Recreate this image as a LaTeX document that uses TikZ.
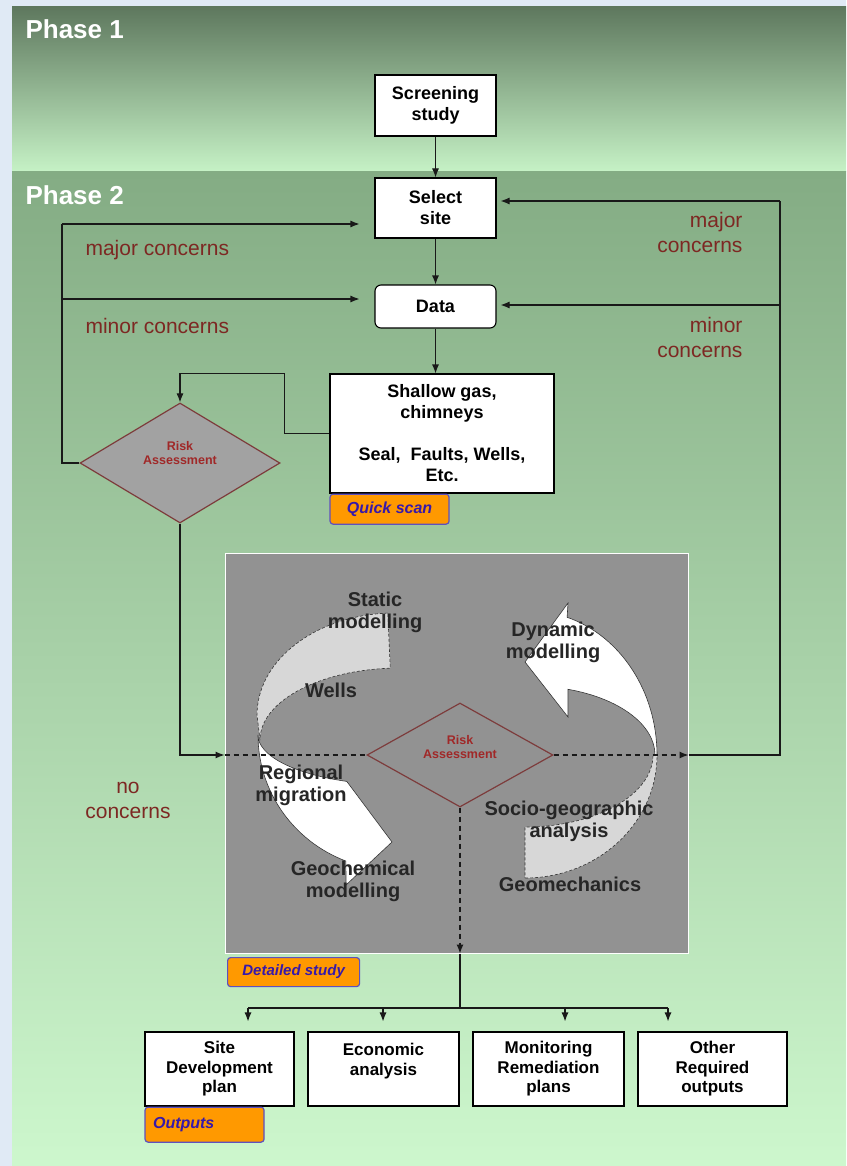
\documentclass[tikz,border=0pt]{standalone}
\usepackage{fontspec}
\setmainfont{Liberation Sans}
\usetikzlibrary{arrows.meta,calc,shapes.geometric}

\definecolor{paleblue}{RGB}{224,234,245}
\definecolor{darkgreen}{RGB}{94,120,94}
\definecolor{lightgreen}{RGB}{198,242,198}
\definecolor{midgreen}{RGB}{132,172,132}
\definecolor{palegreen}{RGB}{205,247,205}
\definecolor{studygray}{RGB}{146,146,146}
\definecolor{riskgray}{RGB}{162,162,162}
\definecolor{riskred}{RGB}{160,40,40}
\definecolor{riskedge}{RGB}{125,60,60}
\definecolor{concernred}{RGB}{125,40,35}
\definecolor{tagorange}{RGB}{255,153,0}
\definecolor{tagedge}{RGB}{95,80,190}
\definecolor{tagtext}{RGB}{55,25,170}
\definecolor{ringgray}{RGB}{215,215,215}

\tikzset{
  box/.style={draw=black, line width=1.1pt, fill=white, align=center, inner sep=0pt,
    font=\bfseries\fontsize{18}{21}\selectfont},
  outbox/.style={box, minimum height=74pt, font=\bfseries\fontsize{17}{19.5}\selectfont},
  tagbox/.style={draw=tagedge, line width=1.2pt, fill=tagorange, rounded corners=3pt,
    text=tagtext, inner sep=0pt, font=\bfseries\itshape\fontsize{16}{18}\selectfont},
  riskdia/.style={diamond, draw=riskedge, line width=1.2pt, inner sep=0pt},
  risktext/.style={text=riskred, align=center, font=\bfseries\fontsize{12.5}{14}\selectfont},
  concern/.style={text=concernred, font=\fontsize{21}{25}\selectfont},
  ringtext/.style={text=black!85, align=center, font=\bfseries\fontsize{20}{22}\selectfont},
  phase/.style={text=white, anchor=west, font=\bfseries\fontsize{26}{30}\selectfont},
  wire/.style={line width=1.1pt, draw=black!90},
  conn/.style={wire, -{Latex[length=9pt,width=7pt]}},
  dashwire/.style={wire, dash pattern=on 5pt off 4pt},
  backring/.style={fill=ringgray, draw=black!80, line width=0.6pt, densely dashed},
  frontring/.style={fill=white, draw=black!80, line width=0.6pt}
}

\begin{document}
\begin{tikzpicture}[x=1pt, y=-1pt]
  \useasboundingbox (0,0) rectangle (846,1166);
  \fill[paleblue] (0,0) rectangle (846,1166);
  \shade[top color=darkgreen, bottom color=lightgreen] (12,7) rectangle (846,172);
  \shade[top color=midgreen, bottom color=palegreen] (12,172) rectangle (846,1166);
  \node[phase] (phaseA) at (22,29) {Phase 1};
  \node[phase] (phaseB) at (22,195) {Phase 2};

  \node[draw=white, line width=1pt, fill=studygray, minimum width=463pt, minimum height=400pt] (study) at (456.5,753) {};

  % circular arrows
  \filldraw[backring] (387.8,613.1) arc[start angle=267, end angle=180, x radius=138, y radius=102]
    -- (260,740) arc[start angle=180, end angle=266, x radius=140, y radius=72] -- cycle;
  \filldraw[frontring] (258,735) arc[start angle=180, end angle=111, x radius=137, y radius=135]
    -- (346,885) -- (392,842) -- (346.8,781.4)
    arc[start angle=112, end angle=180, x radius=142, y radius=50] -- cycle;
  \filldraw[backring] (525,878) arc[start angle=90, end angle=0, x radius=132, y radius=123]
    -- (653,755) arc[start angle=0, end angle=90, x radius=128, y radius=72] -- cycle;
  \filldraw[frontring] (657,755) arc[start angle=360, end angle=287, x radius=127, y radius=144]
    -- (568,603) -- (525,662) -- (568,717) -- (568,689.3)
    arc[start angle=287.7, end angle=360, x radius=125, y radius=69] -- cycle;

  \node[riskdia, minimum width=186pt, minimum height=104pt] (riskB) at (460,755) {};
  \node[risktext] (riskBtxt) at (460,747) {Risk\\Assessment};

  \node[box, minimum width=121pt, minimum height=61pt] (screen) at (435.5,105.5) {Screening\\study};
  \node[box, minimum width=121pt, minimum height=60pt] (select) at (435.5,208) {Select\\site};
  \node[box, rounded corners=6pt, minimum width=121pt, minimum height=43pt] (data) at (435.5,306.5) {Data};
  \node[box, minimum width=224pt, minimum height=119pt] (shallow) at (442,433.5)
    {Shallow gas,\\chimneys\\[21pt]Seal,~ Faults, Wells,\\Etc.};
  \node[tagbox, anchor=north west, minimum width=119pt, minimum height=30pt] (quick) at (shallow.south west) {Quick scan};

  \node[riskdia, fill=riskgray, minimum width=200pt, minimum height=120pt] (riskA) at (180,463) {};
  \node[risktext] (riskAtxt) at (180,453) {Risk\\Assessment};

  \node[tagbox, anchor=north west, minimum width=132pt, minimum height=29pt,
    font=\bfseries\itshape\fontsize{15}{17}\selectfont] (detail) at (227,957) {Detailed study};

  \node[outbox, minimum width=149pt] (out1) at (219.5,1069) {Site\\Development\\plan};
  \node[outbox, minimum width=151pt] (out2) at (383.5,1069) {Economic\\analysis\\~};
  \node[outbox, minimum width=151pt] (out3) at (548.5,1069) {Monitoring\\Remediation\\plans};
  \node[outbox, minimum width=149pt] (out4) at (712.5,1069) {Other\\Required\\outputs};
  \node[tagbox, anchor=north west, minimum width=119pt, minimum height=35pt,
    text width=103pt, align=left] (outtag) at (out1.south west) {Outputs};

  \node[concern, anchor=west] (majA) at (82,250) {major concerns};
  \node[concern, anchor=west] (minA) at (82,326) {minor concerns};
  \node[concern, anchor=east, align=right] (majB) at (746,232) {major\\concerns};
  \node[concern, anchor=east, align=right] (minB) at (746,337) {minor\\concerns};
  \node[concern, align=center] (noc) at (128,800) {no\\concerns};

  % connectors
  \draw[conn] (screen) -- (select);
  \draw[conn] (select) -- (data);
  \draw[conn] (data) -- (data |- shallow.north);
  \draw[conn] (shallow.west) -- ++(-45,0) |- ($(riskA.north)+(0,-29)$) -- (riskA.north);

  \coordinate (majL) at (62,224);
  \coordinate (minL) at (62,299);
  \draw[wire] (riskA.west) -| (majL);
  \draw[conn, shorten >=15pt] (majL) -- (majL -| select.west);
  \draw[conn, shorten >=15pt] (minL) -- (minL -| data.west);

  \draw[conn] (riskA.south) |- (riskB -| study.west);
  \draw[dashwire] (riskB -| study.west) -- (riskB.west);
  \draw[dashwire, -{Latex[length=9pt,width=7pt]}] (riskB.east) -- (riskB -| study.east);

  \coordinate (majR) at (780,201);
  \coordinate (minR) at (780,305);
  \draw[wire] (riskB -| study.east) -| (majR);
  \draw[conn, shorten >=4pt] (majR) -- (majR -| select.east);
  \draw[conn, shorten >=4pt] (minR) -- (minR -| data.east);

  \draw[dashwire, -{Latex[length=9pt,width=7pt]}] (riskB.south) -- (riskB |- study.south);
  \coordinate (fork) at (460,1008);
  \coordinate (f1) at (248,1008);
  \coordinate (f2) at (383,1008);
  \coordinate (f3) at (565,1008);
  \coordinate (f4) at (668,1008);
  \draw[wire] (riskB |- study.south) -- (fork);
  \draw[wire] (f1) -- (f4);
  \draw[conn, shorten >=10pt] (f1) -- (f1 |- out1.north);
  \draw[conn, shorten >=10pt] (f2) -- (f2 |- out2.north);
  \draw[conn, shorten >=10pt] (f3) -- (f3 |- out3.north);
  \draw[conn, shorten >=10pt] (f4) -- (f4 |- out4.north);

  \node[ringtext] (statictxt) at (375,612) {Static\\modelling};
  \node[ringtext] (dynamictxt) at (553,642) {Dynamic\\modelling};
  \node[ringtext] (wellstxt) at (331,690) {Wells};
  \node[ringtext] (regionaltxt) at (301,785) {Regional\\migration};
  \node[ringtext] (sociotxt) at (569,821) {Socio-geographic\\analysis};
  \node[ringtext] (geochemtxt) at (353,881) {Geochemical\\modelling};
  \node[ringtext] (geomechtxt) at (570,884) {Geomechanics};
\end{tikzpicture}
\end{document}
